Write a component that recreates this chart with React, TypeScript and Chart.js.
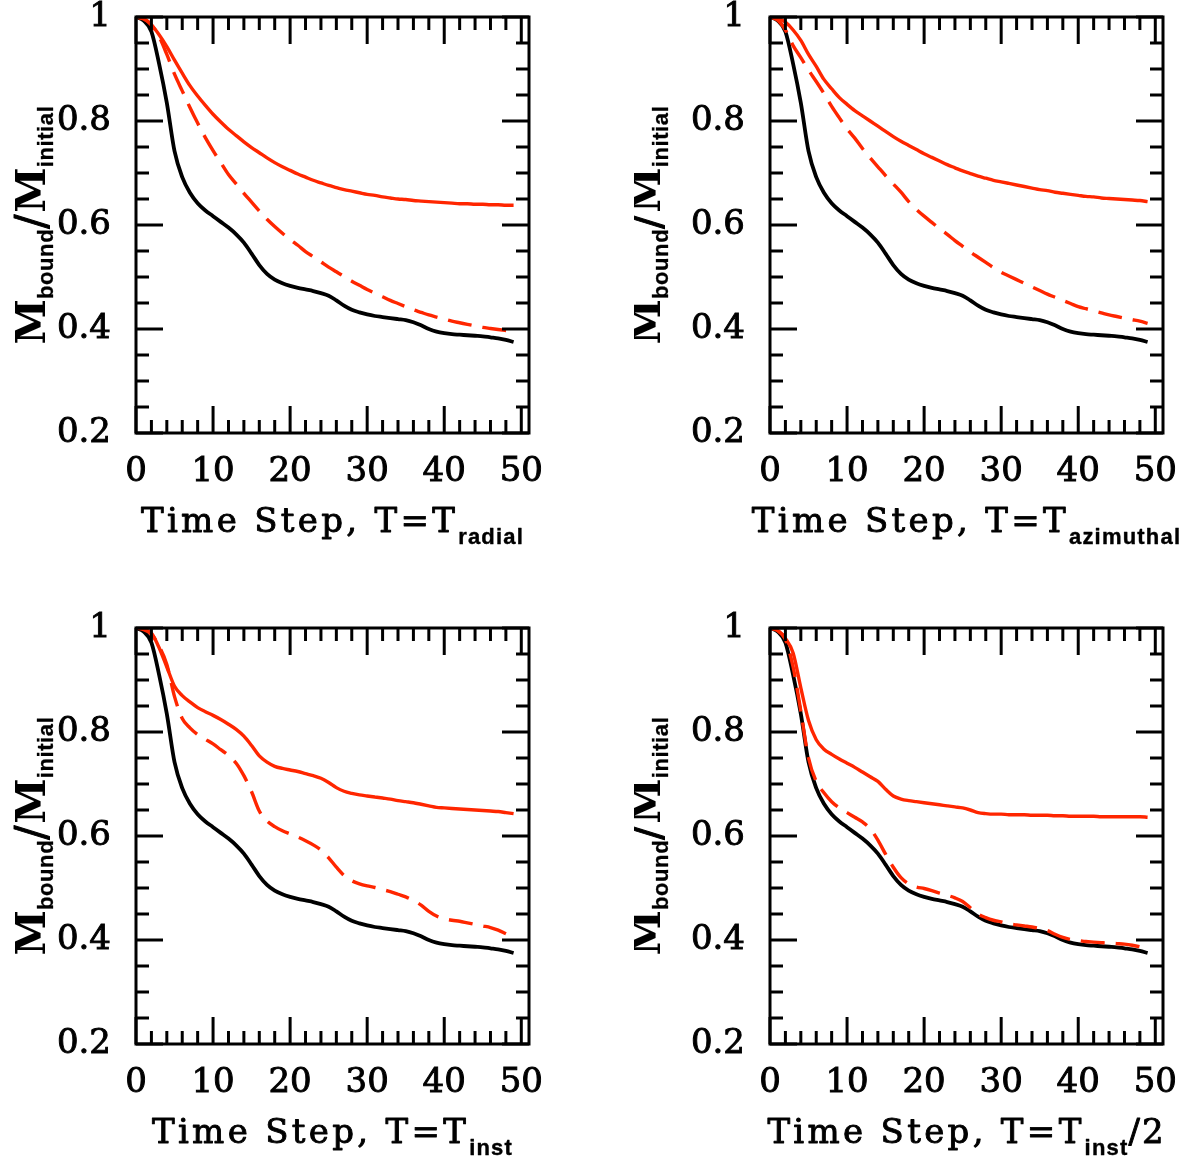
import React, { useEffect, useRef } from "react";
import { Chart, registerables } from "chart.js";

Chart.register(...registerables);

// ---------------- data ----------------
const timeSteps = [
  0, 1, 2, 3, 4, 5, 6, 7, 8, 9,
  10, 11, 12, 13, 14, 15, 16, 17, 18, 19,
  20, 21, 22, 23, 24, 25, 26, 27, 28, 29,
  30, 31, 32, 33, 34, 35, 36, 37, 38, 39,
  40, 41, 42, 43, 44, 45, 46, 47, 48, 49,
];

// black solid curve (same reference run in every panel)
const referenceBound = [
  1.0, 0.993, 0.972, 0.91, 0.835, 0.742, 0.692, 0.662, 0.642, 0.628,
  0.617, 0.606, 0.595, 0.582, 0.566, 0.545, 0.523, 0.506, 0.495, 0.488,
  0.483, 0.479, 0.476, 0.473, 0.469, 0.464, 0.455, 0.445, 0.437, 0.432,
  0.428, 0.425, 0.423, 0.421, 0.419, 0.417, 0.413, 0.407, 0.4, 0.395,
  0.392, 0.39, 0.389, 0.388, 0.387, 0.386, 0.384, 0.382, 0.379, 0.375,
];

// T = T_radial
const radialSolid = [
  1.0, 0.997, 0.985, 0.966, 0.943, 0.917, 0.892, 0.868, 0.848, 0.83,
  0.813, 0.798, 0.784, 0.772, 0.76, 0.749, 0.739, 0.729, 0.72, 0.712,
  0.705, 0.698, 0.692, 0.686, 0.681, 0.676, 0.672, 0.668, 0.665, 0.662,
  0.659, 0.657, 0.654, 0.652, 0.65, 0.649, 0.647, 0.646, 0.645, 0.644,
  0.643, 0.642, 0.641, 0.641, 0.64, 0.64, 0.639, 0.639, 0.638, 0.638,
];
const radialDashed = [
  1.0, 0.996, 0.985, 0.962, 0.928, 0.89, 0.858, 0.826, 0.796, 0.768,
  0.743, 0.72, 0.697, 0.679, 0.661, 0.644, 0.627, 0.611, 0.597, 0.584,
  0.572, 0.561, 0.549, 0.539, 0.529, 0.519, 0.51, 0.501, 0.492, 0.484,
  0.476, 0.469, 0.462, 0.455, 0.449, 0.443, 0.437, 0.432, 0.427, 0.423,
  0.419, 0.415, 0.412, 0.409, 0.406, 0.403, 0.401, 0.399, 0.397, 0.395,
];

// T = T_azimuthal
const azimuthalSolid = [
  1.0, 0.998, 0.99, 0.975, 0.955, 0.928, 0.905, 0.88, 0.862, 0.845,
  0.832, 0.82, 0.81, 0.8, 0.79, 0.78, 0.77, 0.761, 0.753, 0.745,
  0.737, 0.73, 0.723, 0.716, 0.71, 0.704, 0.699, 0.694, 0.69, 0.686,
  0.683, 0.68, 0.677, 0.674, 0.671, 0.668, 0.666, 0.663, 0.661, 0.659,
  0.657, 0.655, 0.654, 0.652, 0.651, 0.65, 0.649, 0.648, 0.647, 0.645,
];
const azimuthalDashed = [
  1.0, 0.994, 0.975, 0.945, 0.922, 0.898, 0.876, 0.853, 0.828, 0.806,
  0.785, 0.767, 0.747, 0.729, 0.712, 0.695, 0.679, 0.663, 0.645, 0.63,
  0.617, 0.605, 0.593, 0.582, 0.57, 0.559, 0.548, 0.538, 0.528, 0.518,
  0.509, 0.502, 0.495, 0.488, 0.481, 0.474, 0.467, 0.461, 0.455, 0.449,
  0.443, 0.439, 0.435, 0.431, 0.427, 0.424, 0.421, 0.418, 0.415, 0.411,
];

// T = T_inst
const instSolid = [
  1.0, 0.998, 0.99, 0.962, 0.925, 0.888, 0.87, 0.858, 0.847, 0.839,
  0.832, 0.824, 0.815, 0.805, 0.792, 0.774, 0.754, 0.742, 0.734, 0.73,
  0.727, 0.724, 0.72, 0.716, 0.711, 0.703, 0.693, 0.686, 0.682, 0.679,
  0.677, 0.675, 0.673, 0.671, 0.668, 0.666, 0.664, 0.661, 0.658, 0.655,
  0.654, 0.653, 0.652, 0.651, 0.65, 0.649, 0.648, 0.647, 0.645, 0.643,
];
const instDashed = [
  1.0, 0.997, 0.988, 0.965, 0.93, 0.868, 0.826, 0.808, 0.795, 0.786,
  0.777, 0.766, 0.755, 0.74, 0.716, 0.685, 0.648, 0.629, 0.618, 0.61,
  0.604, 0.598, 0.591, 0.583, 0.573, 0.558, 0.54, 0.524, 0.514, 0.508,
  0.504, 0.501, 0.497, 0.493, 0.488, 0.483, 0.476, 0.467, 0.455, 0.446,
  0.441, 0.438, 0.436, 0.433, 0.43, 0.427, 0.424, 0.419, 0.412, 0.405,
];

// T = T_inst / 2
const halfInstSolid = [
  1.0, 0.995, 0.98, 0.952, 0.885, 0.822, 0.785, 0.767, 0.757, 0.748,
  0.74, 0.732, 0.723, 0.714, 0.705, 0.69, 0.677, 0.671, 0.668, 0.666,
  0.664, 0.662, 0.66, 0.658, 0.656, 0.654, 0.65, 0.645, 0.643, 0.642,
  0.642, 0.641, 0.641, 0.641, 0.64, 0.64, 0.64, 0.639, 0.639, 0.638,
  0.638, 0.638, 0.638, 0.637, 0.637, 0.637, 0.637, 0.637, 0.637, 0.636,
];
const halfInstDashed = [
  1.0, 0.995, 0.978, 0.925, 0.84, 0.75, 0.705, 0.683, 0.666, 0.654,
  0.645, 0.636, 0.627, 0.614, 0.592, 0.565, 0.54, 0.52, 0.508, 0.502,
  0.499, 0.495, 0.49, 0.486, 0.481, 0.474, 0.462, 0.45, 0.443, 0.438,
  0.435, 0.431, 0.429, 0.427, 0.425, 0.422, 0.418, 0.411, 0.405, 0.401,
  0.399, 0.397, 0.396, 0.395, 0.394, 0.393, 0.392, 0.39, 0.387, 0.383,
];

// axis ticks
const xMajorTicks = [0, 10, 20, 30, 40, 50];
const xTickLabels = ["0", "10", "20", "30", "40", "50"];
const xMinorTicks = [2, 4, 6, 8, 12, 14, 16, 18, 22, 24, 26, 28, 32, 34, 36, 38, 42, 44, 46, 48];
const yMajorTicks = [0.2, 0.4, 0.6, 0.8, 1];
const yTickLabels = ["0.2", "0.4", "0.6", "0.8", "1"];
const yMinorTicks = [0.25, 0.3, 0.35, 0.45, 0.5, 0.55, 0.65, 0.7, 0.75, 0.85, 0.9, 0.95];

const X_MIN = 0;
const X_MAX = 51;
const Y_MIN = 0.2;
const Y_MAX = 1;

// ---------------- styling ----------------
const RED = "rgb(255,38,0)";
const SERIF = '"DejaVu Serif"';
const SANS = '"Liberation Sans"';
const CANVAS_W = 568;
const CANVAS_H = 552;

type Part = { text: string; font: string; dy: number; spacing: number; stroke: number };

function drawParts(ctx: CanvasRenderingContext2D, parts: Part[], cx: number, baseline: number) {
  const c: any = ctx;
  const widths: number[] = [];
  let total = 0;
  for (const p of parts) {
    ctx.font = p.font;
    c.letterSpacing = p.spacing + "px";
    const w = ctx.measureText(p.text).width;
    widths.push(w);
    total += w;
  }
  let x = cx - total / 2;
  ctx.textAlign = "left";
  ctx.textBaseline = "alphabetic";
  ctx.fillStyle = "#000";
  ctx.strokeStyle = "#000";
  ctx.lineJoin = "round";
  parts.forEach((p, i) => {
    ctx.font = p.font;
    c.letterSpacing = p.spacing + "px";
    ctx.fillText(p.text, x, baseline + p.dy);
    if (p.stroke > 0) {
      ctx.lineWidth = p.stroke;
      ctx.strokeText(p.text, x, baseline + p.dy);
    }
    x += widths[i];
  });
  c.letterSpacing = "0px";
}

type PanelProps = {
  left: number;
  top: number;
  solid: number[];
  dashed: number[];
  sub: string;
  suffix: string;
  yTitleGap: number;
};

function Panel({ left, top, solid, dashed, sub, suffix, yTitleGap }: PanelProps) {
  const ref = useRef<HTMLCanvasElement>(null);

  useEffect(() => {
    const canvas = ref.current;
    if (!canvas) return;
    const toPts = (arr: number[]) => timeSteps.map((t, i) => ({ x: t, y: arr[i] }));

    const framePlugin = {
      id: "frameTicks",
      afterDatasetsDraw(chart: any) {
        const ctx: CanvasRenderingContext2D = chart.ctx;
        const { left: l, right: r, top: t, bottom: b } = chart.chartArea;
        const xs = chart.scales.x;
        const ys = chart.scales.y;
        ctx.save();
        ctx.strokeStyle = "#000";
        ctx.lineWidth = 3;
        ctx.lineCap = "butt";
        const line = (x1: number, y1: number, x2: number, y2: number) => {
          ctx.beginPath();
          ctx.moveTo(x1, y1);
          ctx.lineTo(x2, y2);
          ctx.stroke();
        };
        const MAJ = 27;
        const MIN = 13;
        xMajorTicks.forEach((v) => {
          const px = xs.getPixelForValue(v);
          line(px, b, px, b - MAJ);
          line(px, t, px, t + MAJ);
        });
        xMinorTicks.forEach((v) => {
          const px = xs.getPixelForValue(v);
          line(px, b, px, b - MIN);
          line(px, t, px, t + MIN);
        });
        yMajorTicks.forEach((v) => {
          const py = ys.getPixelForValue(v);
          line(l, py, l + MAJ, py);
          line(r, py, r - MAJ, py);
        });
        yMinorTicks.forEach((v) => {
          const py = ys.getPixelForValue(v);
          line(l, py, l + MIN, py);
          line(r, py, r - MIN, py);
        });
        ctx.lineJoin = "miter";
        ctx.strokeRect(l, t, r - l, b - t);
        ctx.restore();
      },
    };

    const titlePlugin = {
      id: "axisTitles",
      afterDraw(chart: any) {
        const ctx: CanvasRenderingContext2D = chart.ctx;
        const { left: l, right: r, top: t, bottom: b } = chart.chartArea;
        ctx.save();
        // x title
        const xParts: Part[] = [
          { text: "Time Step, T=T", font: `34px ${SERIF}`, dy: 0, spacing: 3.3, stroke: 0.9 },
          { text: sub, font: `bold 22px ${SANS}`, dy: 12, spacing: 1.2, stroke: 0.4 },
        ];
        if (suffix) xParts.push({ text: suffix, font: `34px ${SERIF}`, dy: 0, spacing: 2, stroke: 0.9 });
        drawParts(ctx, xParts, (l + r) / 2, b + 99);
        // y title (rotated)
        ctx.translate(l - yTitleGap, (t + b) / 2);
        ctx.rotate(-Math.PI / 2);
        const yParts: Part[] = [
          { text: "M", font: `bold 41px ${SERIF}`, dy: 0, spacing: 0, stroke: 0 },
          { text: "bound", font: `bold 22px ${SANS}`, dy: 8, spacing: 0.6, stroke: 0.3 },
          { text: "/", font: `42px ${SERIF}`, dy: 0, spacing: 2, stroke: 1 },
          { text: "M", font: `bold 41px ${SERIF}`, dy: 0, spacing: 0, stroke: 0 },
          { text: "initial", font: `bold 22px ${SANS}`, dy: 8, spacing: 0.6, stroke: 0.3 },
        ];
        drawParts(ctx, yParts, 0, 0);
        ctx.restore();
      },
    };

    const chart = new Chart(canvas, {
      type: "line",
      data: {
        datasets: [
          {
            data: toPts(referenceBound),
            borderColor: "#000",
            borderWidth: 3.8,
            pointRadius: 0,
            cubicInterpolationMode: "monotone",
            order: 3,
          },
          {
            data: toPts(dashed),
            borderColor: RED,
            borderWidth: 3.4,
            borderDash: [24, 11],
            pointRadius: 0,
            cubicInterpolationMode: "monotone",
            order: 2,
          },
          {
            data: toPts(solid),
            borderColor: RED,
            borderWidth: 3.4,
            pointRadius: 0,
            cubicInterpolationMode: "monotone",
            order: 1,
          },
        ],
      } as any,
      options: {
        responsive: false,
        animation: false,
        events: [],
        layout: { padding: { left: 0, top: 17, right: CANVAS_W - 529, bottom: CANVAS_H - 433 - 60 } },
        plugins: { legend: { display: false }, tooltip: { enabled: false } },
        scales: {
          x: {
            type: "linear",
            min: X_MIN,
            max: X_MAX,
            afterBuildTicks: (s: any) => {
              s.ticks = xMajorTicks.map((v) => ({ value: v }));
            },
            afterFit: (s: any) => {
              s.height = 60;
              s.paddingLeft = 0;
              s.paddingRight = 0;
            },
            ticks: {
              autoSkip: false,
              maxRotation: 0,
              padding: 19,
              color: "#000",
              textStrokeColor: "#000",
              textStrokeWidth: 0.9,
              font: { family: "DejaVu Serif", size: 34 },
              callback: (v: any) => {
                const i = xMajorTicks.indexOf(Number(v));
                return i >= 0 ? xTickLabels[i] : "";
              },
            },
            grid: { display: false, drawTicks: false },
            border: { display: false },
          },
          y: {
            type: "linear",
            min: Y_MIN,
            max: Y_MAX,
            afterBuildTicks: (s: any) => {
              s.ticks = yMajorTicks.map((v) => ({ value: v }));
            },
            afterFit: (s: any) => {
              s.width = 136;
              s.paddingTop = 0;
              s.paddingBottom = 0;
            },
            ticks: {
              autoSkip: false,
              padding: 25,
              color: "#000",
              textStrokeColor: "#000",
              textStrokeWidth: 0.9,
              font: { family: "DejaVu Serif", size: 34 },
              callback: (v: any) => {
                const i = yMajorTicks.findIndex((m) => Math.abs(m - Number(v)) < 1e-9);
                return i >= 0 ? yTickLabels[i] : "";
              },
            },
            grid: { display: false, drawTicks: false },
            border: { display: false },
          },
        },
      } as any,
      plugins: [framePlugin, titlePlugin],
    });
    return () => chart.destroy();
  }, [solid, dashed, sub, suffix, yTitleGap]);

  return (
    <canvas
      ref={ref}
      width={CANVAS_W}
      height={CANVAS_H}
      style={{ position: "absolute", left, top, width: CANVAS_W, height: CANVAS_H }}
    />
  );
}

export default function App() {
  return (
    <div
      style={{
        position: "fixed",
        left: 0,
        top: 0,
        width: 1202,
        height: 1163,
        background: "#fff",
        overflow: "hidden",
      }}
    >
      <Panel left={0} top={0} solid={radialSolid} dashed={radialDashed} sub="radial" suffix="" yTitleGap={91} />
      <Panel left={634} top={0} solid={azimuthalSolid} dashed={azimuthalDashed} sub="azimuthal" suffix="" yTitleGap={110} />
      <Panel left={0} top={611} solid={instSolid} dashed={instDashed} sub="inst" suffix="" yTitleGap={91} />
      <Panel left={634} top={611} solid={halfInstSolid} dashed={halfInstDashed} sub="inst" suffix="/2" yTitleGap={110} />
    </div>
  );
}
